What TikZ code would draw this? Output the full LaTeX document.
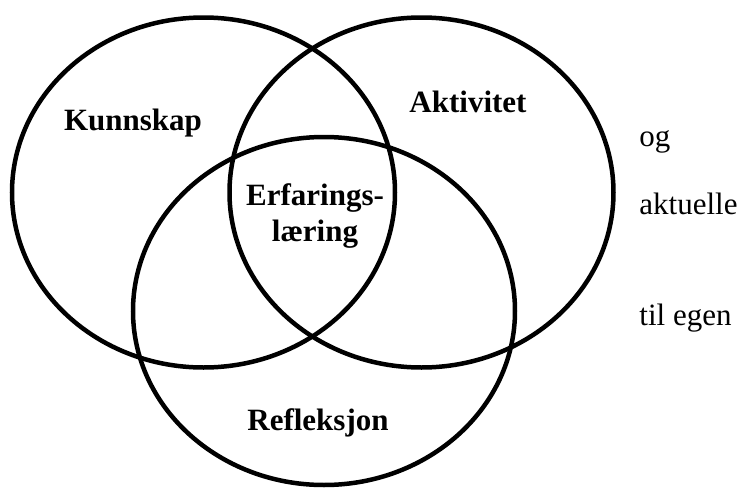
\documentclass[tikz,border=0pt]{standalone}
\usepackage{fontspec}
\setmainfont{Liberation Serif}
\usetikzlibrary{shapes.geometric,positioning}

\begin{document}
\begin{tikzpicture}[
    x=0.5pt, y=-0.5pt,
    ring/.style={ellipse, draw, line width=2.25pt, inner sep=0pt, minimum width=191.5pt, minimum height=175pt},
    lbl/.style={font=\fontsize{15.5}{18}\selectfont\bfseries, align=center, inner sep=0pt},
    note/.style={font=\fontsize{15.5}{18}\selectfont, anchor=base west, inner sep=0pt}
]
    \useasboundingbox (0,0) rectangle (741,488);

    \node[ring] (kunnskap) at (203.5,192.5) {};
    \node[ring, minimum width=192pt] (aktivitet) at (421.5,192.5) {};
    \node[ring, minimum width=191pt, minimum height=174pt] (refleksjon) at (324,311) {};

    \node[lbl, anchor=base] (kunnskaptxt) at (133,130) {Kunnskap};
    \node[lbl, anchor=base] (aktivitettxt) at (468,112) {Aktivitet};
    \node[lbl] (erfaring) at (315,216) {Erfarings-\\læring};
    \node[lbl, anchor=base] (refleksjontxt) at (318,430) {Refleksjon};

    \node[note] (og) at (639,146) {og};
    \node[note] (aktuelle) at (639,214) {aktuelle};
    \node[note] (tilegen) at (639,325) {til egen};
\end{tikzpicture}
\end{document}
